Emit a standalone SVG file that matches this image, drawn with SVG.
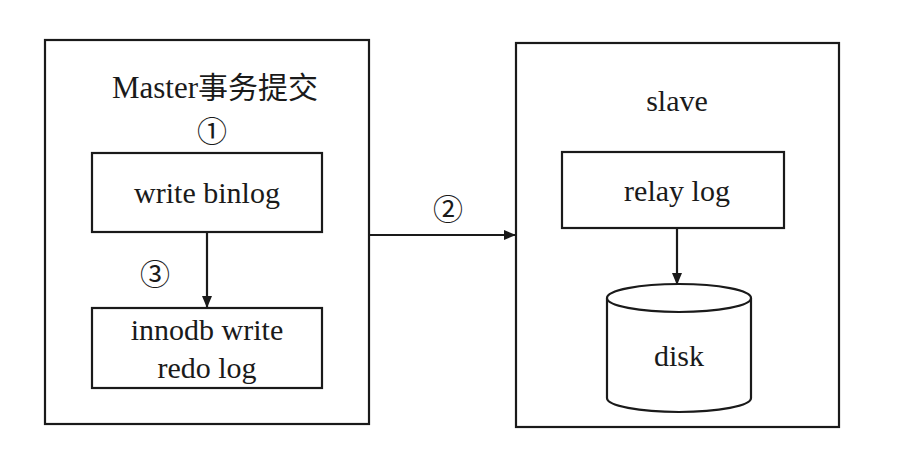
<svg xmlns="http://www.w3.org/2000/svg" width="897" height="464" viewBox="0 0 897 464">
<style>
.b{fill:#fff;stroke:#1a1a1a;stroke-width:2.2}
.t{font-family:"Liberation Serif","Noto Sans CJK SC",serif;font-size:30px;fill:#1a1a1a;text-anchor:middle}
.c{stroke:#1a1a1a;stroke-width:2.2;fill:none}
</style>
<defs><marker id="a" markerWidth="12" markerHeight="10" refX="11" refY="5" orient="auto" markerUnits="userSpaceOnUse"><path d="M0,0 L12,5 L0,10 Z" fill="#1a1a1a"/></marker></defs>
<rect width="897" height="464" fill="#fff"/>
<g id="master"><rect class="b" x="45" y="40" width="324" height="384"/><text x="198" y="98" font-family="'Liberation Serif', serif" font-size="31" fill="#1a1a1a" text-anchor="end">Master</text><text x="198" y="98" font-family="'Noto Sans CJK SC', sans-serif" font-size="30" fill="#1a1a1a">事务提交</text><text class="t" x="212" y="142" font-size="28">①</text></g>
<g id="binlog"><rect class="b" x="92" y="153" width="230" height="79"/><text class="t" x="207" y="203">write binlog</text></g>
<g id="redo"><rect class="b" x="92" y="308" width="230" height="80"/><text class="t" x="207" y="340">innodb write</text><text class="t" x="207" y="378">redo log</text></g>
<g id="slave"><rect class="b" x="516" y="43" width="323" height="384"/><text class="t" x="677" y="111">slave</text></g>
<g id="relay"><rect class="b" x="562" y="152" width="222" height="76"/><text class="t" x="677" y="201">relay log</text></g>
<g id="disk"><path class="b" d="M607,298 L607,398 A72,14 0 0 0 751,398 L751,298"/><ellipse class="b" cx="679" cy="298" rx="72" ry="14"/><text class="t" x="679" y="366">disk</text></g>
<g id="connectors">
<line class="c" x1="207" y1="232" x2="207" y2="307" marker-end="url(#a)"/>
<text class="t" x="155" y="285" font-size="28">③</text>
<line class="c" x1="369" y1="235" x2="515" y2="235" marker-end="url(#a)"/>
<text class="t" x="448" y="220" font-size="28">②</text>
<line class="c" x1="677" y1="228" x2="677" y2="284" marker-end="url(#a)"/>
</g>
</svg>
